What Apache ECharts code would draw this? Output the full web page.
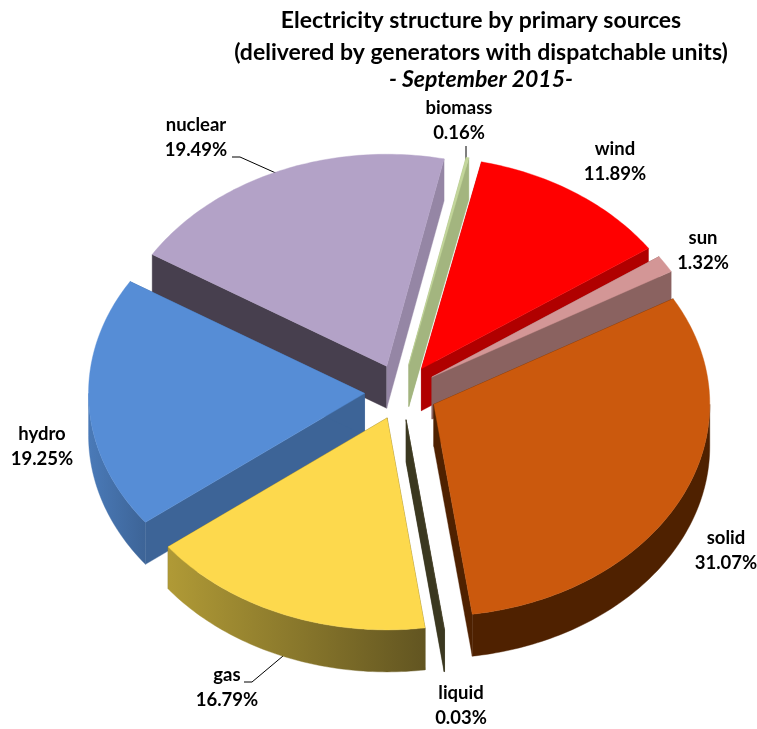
<!DOCTYPE html>
<html>
<head>
<meta charset="utf-8">
<title>Electricity structure</title>
<style>
html,body{margin:0;padding:0;background:#fff;}
#chart{width:757px;height:729px;}
</style>
<script src="https://cdn.jsdelivr.net/npm/echarts@6/dist/echarts.min.js"></script>
</head>
<body>
<div id="chart"></div>
<script>
// values, clockwise from the top
var sourceNames = ['biomass', 'wind', 'sun', 'solid', 'liquid', 'gas', 'hydro', 'nuclear'];
var sourceShares = [0.16, 11.89, 1.32, 31.07, 0.03, 16.79, 19.25, 19.49];

// colours per slice: top, wall, start cut, end cut
var topColors = ['#c3d69b', '#ff0000', '#d39696', '#cb590d', '#4a452a', '#fdd94d', '#568dd6', '#b3a2c7'];
var wallFrom = ['#a3b57f', '#b00000', '#8a6260', '#4f2100', '#3b3820', '#b09a36', '#4a7ab8', '#473f4e'];
var wallTo = ['#a3b57f', '#b00000', '#8a6260', '#4f2100', '#3b3820', '#625521', '#3d6497', '#473f4e'];
var startCut = ['#a3b57f', '#b00000', '#8a6260', '#4f2100', '#3b3820', '#625521', '#3d6497', '#473f4e'];
var endCut = ['#a3b57f', '#b00000', '#8a6260', '#4f2100', '#3b3820', '#625521', '#3d6497', '#9586a5'];

// the tilted pie
var pie = {cx: 401, cy: 392, rx: 276, ry: 212, depth: 42, explodeX: 36.5, explodeY: 28, startAngle: 12};

// label placement, same order as sourceNames
var labelPlace = [[459, 121], [615, 162], [703, 251], [726, 551], [461, 706], [227, 688], [42, 447], [196, 138]];
var leaderLines = [
	[[466, 146], [466, 160]],
	[[232, 157], [240, 157], [278, 174]],
	[[244, 682], [252, 682], [283, 656]]
];

function rad(deg){
	return deg * Math.PI / 180;
}

// start and end angle of each slice, painted back to front
function buildSlices(){
	var total = 0;
	var i;
	for(i = 0; i < sourceShares.length; i++){
		total += sourceShares[i];
	}
	var angle = pie.startAngle;
	var rows = [];
	for(i = 0; i < sourceShares.length; i++){
		var sweep = sourceShares[i] / total * 360;
		rows.push([i, angle, angle + sweep]);
		angle += sweep;
	}
	rows.sort(function(a, b){
		return Math.cos(rad((b[1] + b[2]) / 2)) - Math.cos(rad((a[1] + a[2]) / 2));
	});
	return rows;
}

function renderSlice(params, api){
	var idx = api.value(0);
	var a0 = api.value(1);
	var a1 = api.value(2);
	var mid = rad((a0 + a1) / 2);
	var ax = pie.cx + pie.explodeX * Math.sin(mid);
	var ay = pie.cy - pie.explodeY * Math.cos(mid);

	var pointAt = function(deg){
		return [ax + pie.rx * Math.sin(rad(deg)), ay - pie.ry * Math.cos(rad(deg))];
	};
	var sample = function(from, to){
		var pts = [];
		var steps = Math.max(2, Math.ceil(to - from));
		for(var s = 0; s <= steps; s++){
			pts.push(pointAt(from + (to - from) * s / steps));
		}
		return pts;
	};
	var down = function(p){
		return [p[0], p[1] + pie.depth];
	};
	var poly = function(points, fill){
		return {
			type: 'polygon',
			shape: {points: points},
			style: {fill: fill, stroke: fill, lineWidth: 0.4}
		};
	};

	var apex = [ax, ay];
	var arc = sample(a0, a1);
	var first = arc[0];
	var last = arc[arc.length - 1];
	var children = [
		poly([apex, first, down(first), down(apex)], startCut[idx]),
		poly([apex, last, down(last), down(apex)], endCut[idx])
	];
	// only the front half of the rim faces the viewer
	var w0 = Math.max(a0, 90);
	var w1 = Math.min(a1, 270);
	if(w1 > w0){
		var rim = sample(w0, w1);
		children.push(poly(rim.concat(rim.map(down).reverse()), new echarts.graphic.LinearGradient(0, 0, 1, 0, [
			{offset: 0, color: wallFrom[idx]},
			{offset: 1, color: wallTo[idx]}
		])));
	}
	children.push(poly([apex].concat(arc), topColors[idx]));
	return {type: 'group', children: children};
}

// slice labels and their leader lines
function buildGraphic(){
	var items = [];
	var i;
	for(i = 0; i < sourceNames.length; i++){
		items.push({
			type: 'text',
			x: labelPlace[i][0],
			y: labelPlace[i][1],
			style: {
				text: sourceNames[i] + '\n' + sourceShares[i].toFixed(2) + '%',
				fontFamily: 'Lato',
				fontWeight: 'bold',
				fontSize: 18.5,
				lineHeight: 25,
				fill: '#000',
				align: 'center',
				verticalAlign: 'middle'
			}
		});
	}
	for(i = 0; i < leaderLines.length; i++){
		items.push({
			type: 'polyline',
			shape: {points: leaderLines[i]},
			style: {stroke: '#000', lineWidth: 1, fill: null}
		});
	}
	return items;
}

var myChart = echarts.init(document.getElementById('chart'));
var option = {
	backgroundColor: '#fff',
	animation: false,
	title: {
		left: 476,
		top: 0,
		textAlign: 'center',
		text: '{a|Electricity structure by primary sources}\n{a|(delivered by generators with dispatchable units)}\n{b|- September 2015-}',
		textStyle: {
			rich: {
				a: {fontFamily: 'Lato', fontWeight: 'bold', fontSize: 23, lineHeight: 32, color: '#000', align: 'center'},
				b: {fontFamily: 'Lato', fontWeight: 'bold', fontStyle: 'italic', fontSize: 23, lineHeight: 22, color: '#000', align: 'center'}
			}
		}
	},
	graphic: buildGraphic(),
	series: [
		{
			type: 'custom',
			coordinateSystem: 'none',
			silent: true,
			renderItem: renderSlice,
			data: buildSlices()
		}
	]
};
myChart.setOption(option);
</script>
</body>
</html>
